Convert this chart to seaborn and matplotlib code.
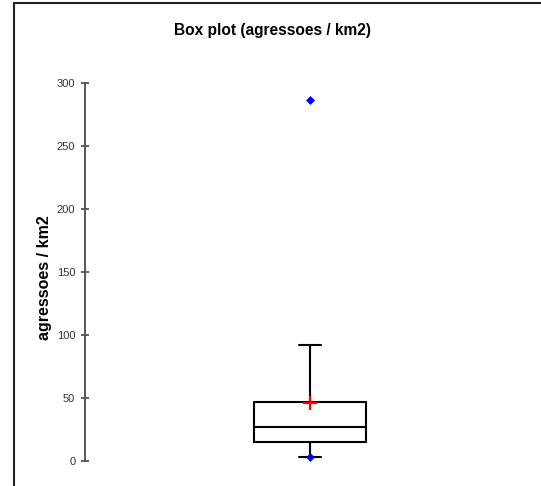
import matplotlib
matplotlib.use("Agg")
import matplotlib.pyplot as plt
from matplotlib.lines import Line2D
import seaborn as sns

# Summary statistics of aggressions per km2
variable = "agressoes / km2"
stat_names = ["min", "whisker_low", "q1", "median", "mean", "q3", "whisker_high", "max"]
stat_values = [2.7, 2.7, 15.1, 26.5, 45.5, 46.6, 91.8, 286.0]
y_ticks = [0, 50, 100, 150, 200, 250, 300]

stats = dict(zip(stat_names, stat_values))

sns.set_style("white")
plt.rcParams["font.family"] = ["Liberation Sans", "DejaVu Sans"]
plt.rcParams["text.color"] = "black"

W, H = 541, 486
fig = plt.figure(figsize=(W / 100, H / 100), dpi=100)

# axes placement in pixels
ax_left, ax_right = 85, 535
y0_px, y300_px = 460.7, 82.7
ylo, yhi = -15, 315
ppu = (y0_px - y300_px) / 300.0
ax_bottom_px = y0_px + (0 - ylo) * ppu
ax_top_px = y300_px - (yhi - 300) * ppu
ax = fig.add_axes([ax_left / W, 1 - ax_bottom_px / H,
                   (ax_right - ax_left) / W, (ax_bottom_px - ax_top_px) / H])

box = {
    "label": variable,
    "whislo": stats["whisker_low"],
    "q1": stats["q1"],
    "med": stats["median"],
    "q3": stats["q3"],
    "whishi": stats["whisker_high"],
    "fliers": [],
}
line_kw = dict(color="black", linewidth=1.5)
ax.bxp([box], positions=[0], widths=0.251, capwidths=0.049,
       showfliers=False, boxprops=line_kw, medianprops=line_kw,
       whiskerprops=line_kw, capprops=line_kw)

# minimum and maximum as blue points, mean as a red cross
sns.scatterplot(x=[0, 0], y=[stats["min"], stats["max"]], ax=ax,
                marker="D", s=16, color="#0000ff", edgecolor="#0000ff",
                linewidth=0.5, zorder=5)
sns.scatterplot(x=[0], y=[stats["mean"]], ax=ax, marker="+", s=110,
                color="#ff0000", linewidth=1.6, zorder=6)

ax.set_xlim(-0.5, 0.5)
ax.set_ylim(ylo, yhi)
ax.set_xticks([])
ax.set_yticks(y_ticks)
ax.set_yticklabels([str(t) for t in y_ticks])
for side in ("top", "right", "bottom"):
    ax.spines[side].set_visible(False)
ax.spines["left"].set_bounds(0, 300)
ax.spines["left"].set_color("#555555")
ax.spines["left"].set_linewidth(1.4)
ax.tick_params(axis="y", direction="inout", length=6, width=1.2,
               color="#444444", labelsize=8, labelcolor="#333333", pad=4,
               left=True)
ax.set_ylabel("")
ax.set_facecolor("none")

fig.text(272 / W, 1 - 31 / H, "Box plot (agressoes / km2)",
         ha="center", va="center", fontsize=11.2, fontweight="bold",
         color="black")
fig.text(44 / W, 1 - 278 / H, variable, rotation=90,
         ha="center", va="center", fontsize=11.5, fontweight="bold",
         color="black")

# chart frame along the left and top edges
fig.add_artist(Line2D([14 / W, 14 / W], [0, 1 - 3.5 / H],
                      transform=fig.transFigure, color="#222222", linewidth=1.5))
fig.add_artist(Line2D([14 / W, 1], [1 - 3.5 / H, 1 - 3.5 / H],
                      transform=fig.transFigure, color="#222222", linewidth=1.5))

fig.savefig("out.png", dpi=100)
